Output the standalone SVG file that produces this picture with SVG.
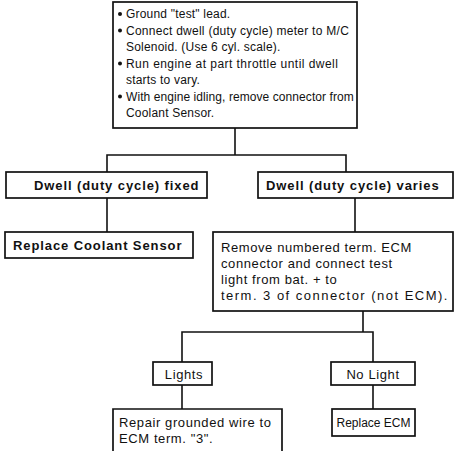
<svg xmlns="http://www.w3.org/2000/svg" width="455" height="451" viewBox="0 0 455 451">
  <style>
    .box { fill: #fff; stroke: #111; stroke-width: 1.7; }
    .wire { fill: none; stroke: #111; stroke-width: 1.6; }
    text { font-family: "Liberation Sans", Arial, sans-serif; fill: #111; }
    .step { font-size: 12px; letter-spacing: 0.2px; }
    .bold { font-size: 13px; font-weight: bold; letter-spacing: 0.9px; }
    .body { font-size: 13px; letter-spacing: 0.6px; }
    .dot { fill: #111; }
  </style>
  <rect width="455" height="451" fill="#fff"/>

  <!-- connectors -->
  <g id="connectors">
    <path class="wire" d="M235 128 V155 M107 172 V155 H346 V172"/>
    <path class="wire" d="M107 198 V232"/>
    <path class="wire" d="M355 198 V232"/>
    <path class="wire" d="M363 311 V332 M182 362 V332 H373 V362"/>
    <path class="wire" d="M182 385 V409"/>
    <path class="wire" d="M373 385 V409"/>
  </g>

  <!-- initial test procedure -->
  <g id="start">
    <rect class="box" x="113" y="2" width="244" height="126"/>
    <circle class="dot" cx="120" cy="14" r="2"/>
    <circle class="dot" cx="120" cy="30.5" r="2"/>
    <circle class="dot" cx="120" cy="63.5" r="2"/>
    <circle class="dot" cx="120" cy="96.5" r="2"/>
    <text class="step" x="126" y="18">Ground "test" lead.</text>
    <text class="step" x="126" y="34.5" textLength="223" lengthAdjust="spacing">Connect dwell (duty cycle) meter to M/C</text>
    <text class="step" x="126" y="51">Solenoid. (Use 6 cyl. scale).</text>
    <text class="step" x="126" y="67.5" textLength="212" lengthAdjust="spacing">Run engine at part throttle until dwell</text>
    <text class="step" x="126" y="84">starts to vary.</text>
    <text class="step" x="126" y="100.5" textLength="228" lengthAdjust="spacing">With engine idling, remove connector from</text>
    <text class="step" x="126" y="117">Coolant Sensor.</text>
  </g>

  <g id="dwell-fixed">
    <rect class="box" x="6" y="172" width="201" height="26"/>
    <text class="bold" x="34" y="190">Dwell (duty cycle) fixed</text>
  </g>

  <g id="replace-sensor">
    <rect class="box" x="5" y="232" width="188" height="26"/>
    <text class="bold" x="13" y="250">Replace Coolant Sensor</text>
  </g>

  <g id="dwell-varies">
    <rect class="box" x="258" y="172" width="195" height="26"/>
    <text class="bold" x="266" y="190">Dwell (duty cycle) varies</text>
  </g>

  <g id="test-light">
    <rect class="box" x="213" y="232" width="240" height="79"/>
    <text class="body" x="221" y="252" textLength="191" lengthAdjust="spacing">Remove numbered term. ECM</text>
    <text class="body" x="221" y="268">connector and connect test</text>
    <text class="body" x="221" y="284">light from bat. +  to</text>
    <text class="body" x="221" y="300" textLength="227" lengthAdjust="spacing">term. 3 of connector (not ECM).</text>
  </g>

  <g id="lights">
    <rect class="box" x="153" y="362" width="59" height="23"/>
    <text class="body" x="184" y="379" text-anchor="middle">Lights</text>
  </g>

  <g id="no-light">
    <rect class="box" x="331" y="362" width="84" height="23"/>
    <text class="body" x="373" y="379" text-anchor="middle">No Light</text>
  </g>

  <g id="repair-wire">
    <path class="box" d="M113 452 V409 H282 V452"/>
    <text class="body" x="119" y="427">Repair grounded wire to</text>
    <text class="body" x="119" y="443">ECM term. "3".</text>
  </g>

  <g id="replace-ecm">
    <rect class="box" x="332" y="409" width="83" height="27"/>
    <text x="373.5" y="427" font-size="12" text-anchor="middle">Replace ECM</text>
  </g>
</svg>
